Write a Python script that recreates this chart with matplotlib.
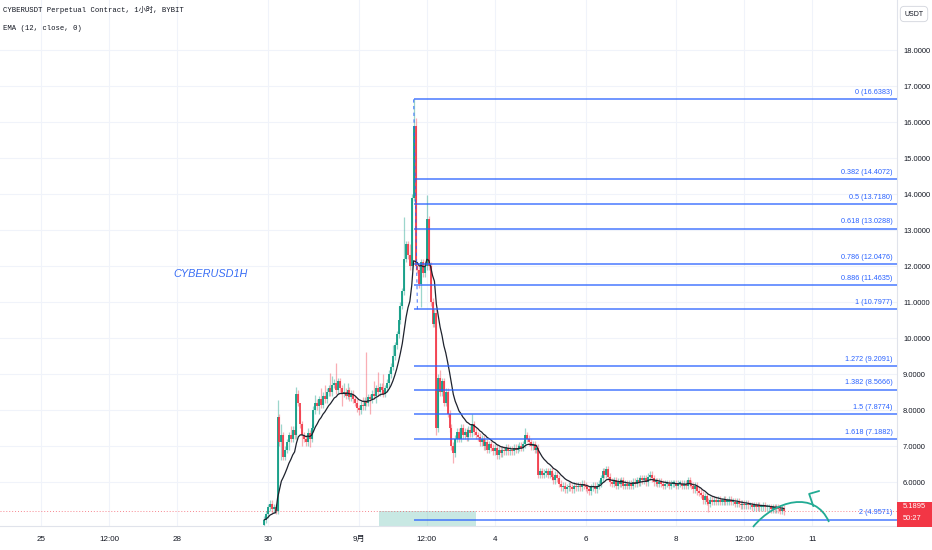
import numpy as np
import pandas as pd
import matplotlib.pyplot as plt
from matplotlib.patches import Rectangle, PathPatch
from matplotlib.path import Path
import matplotlib.transforms as mtransforms

# candles de 1h, eixo x = horas a partir de 1 set 00:00
first_hour = -50
first_open = 4.8
closes = [
    4.95, 5.1, 5.3, 5.4, 5.25, 5.3, 5.2,
    7.8,
    7.1, 7.3, 6.7, 6.9, 7.1,
    7.3, 7.2, 7.45, 7.3, 8.45,
    8.2, 7.6, 7.3, 7.2,
    7.1, 7.35, 7.2, 7.5,
    8.0, 8.2, 8.1,
    8.3, 8.15, 8.4, 8.3, 8.5,
    8.6, 8.5, 8.7, 8.75, 8.55, 8.8, 8.6,
    8.45, 8.5, 8.4, 8.55, 8.35, 8.45, 8.3,
    8.2, 8.05, 8.0, 8.15, 8.1,
    8.25, 8.2, 8.35, 8.3,
    8.45, 8.4, 8.6, 8.5, 8.65, 8.55, 8.45, 8.6, 8.75,
    9.0, 9.2, 9.5, 9.8, 10.1,
    10.5, 10.9, 11.3, 12.2, 12.6,
    12.3, 12.0, 13.9,
    15.9,
    12.0,
    11.9, 11.5, 12.1, 11.8,
    12.0, 13.3, 12.0,
    11.0, 10.4, 10.7,
    7.5,
    8.9, 8.5, 8.8, 8.2, 8.5,
    7.9, 7.5, 7.0, 6.8, 7.2,
    7.4, 7.2, 7.5, 7.3, 7.4, 7.25, 7.45,
    7.35, 7.6, 7.4, 7.3, 7.25, 7.1,
    7.2, 7.0, 7.1, 6.9, 7.05, 6.95,
    6.85, 6.95, 6.75, 6.9, 6.8, 6.9, 6.85, 6.95, 6.85,
    6.9, 6.85, 6.95, 6.9, 6.95, 7.0, 6.95, 7.05, 7.3,
    7.2, 7.1, 7.0, 7.05, 6.9, 6.95,
    6.2,
    6.3, 6.2, 6.25, 6.3, 6.2, 6.3, 6.15, 6.05, 6.2, 6.1,
    5.95, 5.85, 5.9, 5.8, 5.85, 5.9, 5.85, 5.8, 5.9,
    5.85, 5.9, 5.85, 5.95, 5.9, 5.85, 5.8, 5.75, 5.85, 5.9, 5.8, 5.9, 5.95,
    6.1, 6.3, 6.2, 6.35, 6.15, 6.0,
    5.95, 6.05, 5.9, 6.0, 5.95, 6.05, 5.9, 5.95, 5.9, 5.95,
    5.9, 6.0, 5.95, 6.05, 6.0, 6.1,
    6.05, 6.1, 6.0, 6.15, 6.2, 6.1, 6.0,
    6.0, 5.95, 6.0, 5.95, 5.9, 5.95, 5.95, 5.9, 5.95, 5.95, 5.95, 5.9, 5.95, 5.95, 5.9, 5.95, 5.9,
    6.05, 5.95, 5.9,
    5.8, 5.9, 5.75, 5.7, 5.65,
    5.5, 5.6, 5.45, 5.4,
    5.5, 5.45, 5.5, 5.45, 5.5, 5.45, 5.45, 5.5, 5.45, 5.45, 5.5, 5.45,
    5.45, 5.4, 5.45, 5.4, 5.35, 5.4, 5.35, 5.4, 5.35, 5.35, 5.3,
    5.35, 5.3, 5.35, 5.3, 5.3, 5.35, 5.3, 5.3, 5.3, 5.25, 5.3,
    5.25, 5.3, 5.25, 5.2, 5.25, 5.1895,
]
# pavios que se destacam (hora: preco)
wick_high = {-43: 8.28, -41: 7.6, -36: 7.55, -33: 8.64, -31: 8.0, -27: 7.5, -23: 8.42,
             -20: 8.6, -18: 8.7, -15: 9.03, -14: 8.95, -12: 9.3, -8: 8.75, -6: 8.75,
             2: 8.35, 4: 9.6, 8: 8.8, 10: 9.06, 13: 9.0, 18: 9.8, 21: 10.9, 24: 13.36,
             27: 12.6, 29: 16.64, 30: 16.1, 36: 13.97, 43: 9.1, 60: 7.9, 88: 7.5,
             131: 6.45, 174: 6.15}
wick_low = {-41: 6.6, -39: 6.6, -37: 6.9, -30: 7.0, -26: 6.97, -21: 7.9, -9: 8.1,
            0: 7.85, 1: 7.9, 6: 7.9, 9: 8.2, 33: 10.86, 41: 7.3, 50: 6.53,
            123: 5.64, 185: 5.17}

fib_ratios = ['0', '0.382', '0.5', '0.618', '0.786', '0.886', '1', '1.272', '1.382', '1.5', '1.618', '2']
fib_prices = [16.6383, 14.4072, 13.7180, 13.0288, 12.0476, 11.4635, 10.7977, 9.2091, 8.5666, 7.8774, 7.1882, 4.9571]

tick_hours = [-168, -132, -96, -48, 0, 36, 72, 120, 168, 204, 240]
tick_labels = ['25', '12:00', '28', '30', '9月', '12:00', '4', '6', '8', '12:00', '11']
price_ticks = list(range(6, 19))
last_price = 5.1895
countdown = '50:27'
highlight_hours = (10.7, 62.0)

# desenho a mao (seta verde)
arrow_curve = [(208.6, 4.75), (220.2, 5.5), (241.4, 5.78), (248.8, 4.89)]
arrow_head = [(243.6, 5.75), (238.3, 5.67), (240.5, 5.33)]

up_color = '#089981'
down_color = '#f23645'
fib_color = '#2962ff'
fonte = ['Liberation Sans', 'DejaVu Sans']

dados = pd.DataFrame({'close': closes})
dados['hora'] = first_hour + np.arange(len(dados))
dados['open'] = dados['close'].shift(1).fillna(first_open)
dados['high'] = dados[['open', 'close']].max(axis=1) + 0.1
dados['low'] = dados[['open', 'close']].min(axis=1) - 0.1
for h, v in wick_high.items():
    dados.loc[dados.hora == h, 'high'] = v
for h, v in wick_low.items():
    dados.loc[dados.hora == h, 'low'] = v
dados['ema'] = dados['close'].ewm(span=12, adjust=False).mean()

fig = plt.figure(figsize=(9.32, 5.5), dpi=100)
ax = fig.add_axes([0, 24 / 550, 897 / 932, 526 / 550])
ax.set_xlim(-189.9, 284.8)
ax.set_ylim(4.778, 19.389)

ax.set_xticks(tick_hours)
ax.set_xticklabels(tick_labels, fontsize=5.8, color='#131722', family=fonte + ['Noto Sans CJK SC'])
ax.yaxis.tick_right()
ax.set_yticks(price_ticks)
ax.set_yticklabels([f'{p:.4f}' for p in price_ticks], fontsize=5.4, color='#131722', family=fonte)
ax.tick_params(axis='x', length=0, pad=7)
ax.tick_params(axis='y', length=0, pad=4.3)
ax.grid(True, color='#f0f3fa', lw=0.8)
ax.set_axisbelow(True)
for s in ['top', 'left']:
    ax.spines[s].set_visible(False)
for s in ['right', 'bottom']:
    ax.spines[s].set_color('#e0e3eb')
    ax.spines[s].set_linewidth(0.8)

trans = mtransforms.blended_transform_factory(ax.transData, ax.transAxes)
trans_y = mtransforms.blended_transform_factory(ax.transAxes, ax.transData)
ax.add_patch(Rectangle((highlight_hours[0], 0), highlight_hours[1] - highlight_hours[0], 15 / 526,
                       transform=trans, facecolor='#089981', alpha=0.22, lw=0, zorder=1))

# linha do preco atual
ax.axhline(last_price, color=down_color, lw=0.7, ls=(0, (1, 2)), alpha=0.6, zorder=1)

# candles
cores = np.where(dados.close >= dados.open, up_color, down_color)
ax.vlines(dados.hora, dados.low, dados.high, colors=cores, lw=0.9, alpha=0.4, zorder=3)
body_lo = dados[['open', 'close']].min(axis=1)
body_hi = dados[['open', 'close']].max(axis=1)
body_hi = np.maximum(body_hi, body_lo + 0.04)
ax.vlines(dados.hora, body_lo, body_hi, colors=cores, lw=1.25, zorder=4, capstyle='butt')

ax.plot(dados.hora, dados.ema, color='#1e222d', lw=0.9, zorder=5)

# fibonacci
peak_hour = dados.loc[dados.high.idxmax(), 'hora']
ax.hlines(fib_prices, peak_hour, ax.get_xlim()[1], color=fib_color, lw=1.1, alpha=0.85, zorder=6)
for r, p in zip(fib_ratios, fib_prices):
    ax.annotate(f'{r} ({p:.4f})', xy=(1, p), xycoords=trans_y, xytext=(-3, 2.5), textcoords='offset points',
                ha='right', va='bottom', fontsize=5.2, color=fib_color, family=fonte, zorder=7)
ax.plot([peak_hour + 2, peak_hour], [fib_prices[6], fib_prices[0]], color=fib_color, lw=0.8,
        ls=(0, (3, 3)), alpha=0.8, zorder=6)

# seta desenhada
codes = [Path.MOVETO, Path.CURVE4, Path.CURVE4, Path.CURVE4]
ax.add_patch(PathPatch(Path(arrow_curve, codes), fill=False, edgecolor='#22ab94', lw=1.3, zorder=8, clip_on=False))
ax.plot([p[0] for p in arrow_head], [p[1] for p in arrow_head], color='#22ab94', lw=1.3, zorder=8,
        solid_capstyle='round', solid_joinstyle='round')

# textos
fig.text(3 / 932, 1 - 10 / 550, 'CYBERUSDT Perpetual Contract, 1小时, BYBIT', fontsize=5.2, color='#131722',
         va='center', ha='left', family=['Liberation Mono', 'Noto Sans CJK SC'])
fig.text(3 / 932, 1 - 28 / 550, 'EMA (12, close, 0)', fontsize=5.2, color='#131722',
         va='center', ha='left', family=['Liberation Mono', 'Noto Sans CJK SC'])
fig.text(211 / 932, 1 - 274 / 550, 'CYBERUSD1H', fontsize=7.8, color='#3b6ff5', style='italic',
         va='center', ha='center', family=fonte)

fig.text(914 / 932, 1 - 14 / 550, 'USDT', fontsize=5, color='#131722', ha='center', va='center',
         family=fonte, bbox=dict(boxstyle='round,pad=0.6', fc='white', ec='#d1d4dc', lw=0.6))

fig.patches.append(Rectangle((897 / 932, (550 - 527) / 550), 35 / 932, 25 / 550, transform=fig.transFigure,
                             facecolor=down_color, edgecolor='none'))
fig.text(903 / 932, 1 - 507 / 550, f'{last_price:.4f}', fontsize=5.4, color='white', va='center', family=fonte)
fig.text(903 / 932, 1 - 519 / 550, countdown, fontsize=5.4, color='white', va='center', family=fonte)

fig.savefig('out.png', dpi=100)
